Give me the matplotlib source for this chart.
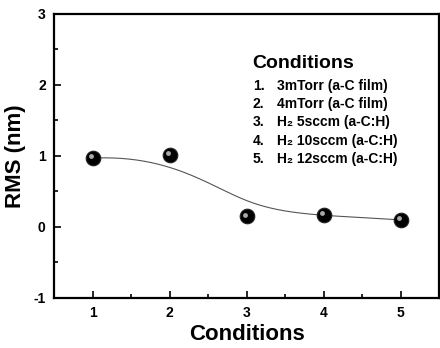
import numpy as np
import matplotlib
matplotlib.use("Agg")
import matplotlib.pyplot as plt
from matplotlib import transforms
from matplotlib.ticker import MultipleLocator

conditions = [1, 2, 3, 4, 5]
rms = [0.97, 1.02, 0.15, 0.17, 0.10]
cond_nums = ["1.", "2.", "3.", "4.", "5."]
cond_names = ["3mTorr (a-C film)", "4mTorr (a-C film)", "H\u2082 5sccm (a-C:H)",
              "H\u2082 10sccm (a-C:H)", "H\u2082 12sccm (a-C:H)"]

plt.rcParams['font.family'] = ['Liberation Sans', 'DejaVu Sans']
plt.rcParams['font.weight'] = 'bold'
plt.rcParams['axes.unicode_minus'] = False


def bspline(px, py, n=200):
    # clamped cubic B-spline using the points as control points
    P = np.column_stack([px, py]).astype(float)
    k = 3
    m = len(P)
    inner = np.linspace(0, 1, m - k + 1)[1:-1]
    t = np.concatenate([np.zeros(k + 1), inner, np.ones(k + 1)])
    us = np.linspace(0, 1, n)
    out = []
    for u in us:
        if u >= 1:
            out.append(P[-1])
            continue
        s = np.searchsorted(t, u, side='right') - 1
        d = [P[j + s - k].copy() for j in range(k + 1)]
        for r in range(1, k + 1):
            for j in range(k, r - 1, -1):
                a = (u - t[j + s - k]) / (t[j + 1 + s - r] - t[j + s - k])
                d[j] = (1 - a) * d[j - 1] + a * d[j]
        out.append(d[k])
    out = np.array(out)
    return out[:, 0], out[:, 1]


fig = plt.figure(figsize=(4.4, 3.48), dpi=100)
ax = fig.add_axes([0.1227, 0.1437, 0.8753, 0.8161])

cx, cy = bspline(conditions, rms)
ax.plot(cx, cy, color='#555555', lw=0.8, zorder=2)

ax.plot(conditions, rms, 'o', ms=10.5, mfc='black', mec='#222222', mew=0.8, zorder=3)
hl = transforms.offset_copy(ax.transData, fig=fig, x=-1.8, y=1.8, units='dots')
ax.plot(conditions, rms, 'o', ms=3.5, mfc='#bbbbbb', mec='none', alpha=0.9,
        transform=hl, zorder=4)

ax.set_xlim(0.5, 5.5)
ax.set_ylim(-1, 3)
ax.xaxis.set_major_locator(MultipleLocator(1))
ax.xaxis.set_minor_locator(MultipleLocator(0.5))
ax.yaxis.set_major_locator(MultipleLocator(1))
ax.yaxis.set_minor_locator(MultipleLocator(0.5))
ax.tick_params(which='both', direction='in', width=1.2, labelsize=10)
ax.tick_params(which='major', length=5, pad=6)
ax.tick_params(which='minor', length=3)
for sp in ax.spines.values():
    sp.set_linewidth(1.6)

ax.set_xlabel("Conditions", fontsize=16, fontweight='bold', labelpad=3)
ax.set_ylabel("RMS (nm)", fontsize=16, fontweight='bold', labelpad=5)

ax.text(0.516, 0.827, "Conditions", transform=ax.transAxes, fontsize=14,
        fontweight='bold', va='center')
for i, (num, name) in enumerate(zip(cond_nums, cond_names)):
    yy = 0.745 - i * 0.0635
    ax.text(0.516, yy, num, transform=ax.transAxes, fontsize=10,
            fontweight='bold', va='center')
    ax.text(0.58, yy, name, transform=ax.transAxes, fontsize=10,
            fontweight='bold', va='center',
            family=['Liberation Sans Narrow', 'Liberation Sans', 'DejaVu Sans'])

fig.savefig("out.png", dpi=100)
